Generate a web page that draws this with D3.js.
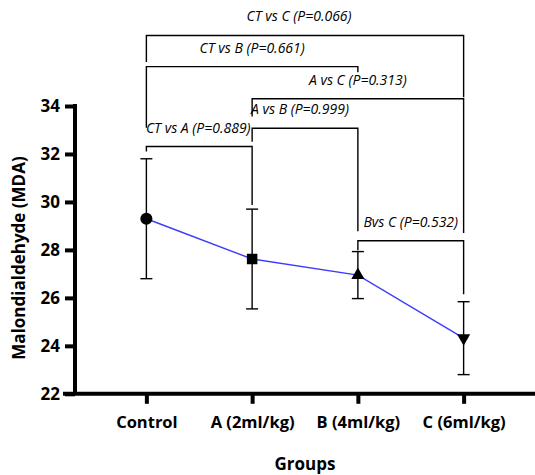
<!DOCTYPE html>
<html><head><meta charset="utf-8">
<script src="https://cdn.jsdelivr.net/npm/d3@7"></script>
<style>
html,body{margin:0;padding:0;background:#fff;}
svg{display:block;}
text{font-family:"Open Sans",sans-serif;}
</style></head>
<body>
<svg id="chart" width="535" height="475"></svg>
<script>
// ---- data ----
const categories = ["Control", "A (2ml/kg)", "B (4ml/kg)", "C (6ml/kg)"];
const means = [29.3, 27.62, 26.95, 24.32];
const sds = [2.5, 2.08, 0.98, 1.52];
const yTicks = [22, 24, 26, 28, 30, 32, 34];
const markerTypes = ["circle", "square", "triangle", "triangleDown"];
const compLabels = ["CT vs C (P=0.066)", "CT vs B (P=0.661)", "A vs C (P=0.313)", "A vs B (P=0.999)", "CT vs A (P=0.889)", "Bvs C (P=0.532)"];
const compFrom = [0, 0, 1, 1, 0, 2];
const compTo = [3, 2, 3, 2, 1, 3];
// bracket levels and leg ends (in MDA units)
const compLevel = [36.94, 35.64, 34.30, 33.07, 32.31, 28.38];
const compLegFrom = [35.83, 33.09, 33.56, 32.51, 32.10, 27.99];
const compLegTo = [34.37, 35.41, 28.70, 28.78, 29.87, 26.15];
const compTextShift = [-6, 0, 0, -5, -1, 0];

const svg = d3.select("#chart");
const x = d3.scalePoint().domain(categories).range([75, 535]).padding(0.675);
const y = d3.scaleLinear().domain([22, 34]).range([393.8, 106]);

// y axis
const yAxis = svg.append("g").attr("transform", "translate(75,0)")
  .call(d3.axisLeft(y).tickValues(yTicks).tickSize(10).tickSizeOuter(0).tickPadding(5));
yAxis.select(".domain").attr("stroke-width", 4).attr("stroke", "#000").attr("d", `M0,${y(34)-2}V${y(22)}`);
yAxis.selectAll(".tick line").attr("stroke-width", 4).attr("stroke", "#000");
yAxis.selectAll(".tick text").attr("font-size", 17).attr("font-weight", "bold").attr("fill", "#000")
  .attr("font-family", "Open Sans");

// x axis
const xAxis = svg.append("g").attr("transform", `translate(0,${y(22)})`)
  .call(d3.axisBottom(x).tickSize(10).tickSizeOuter(0).tickPadding(12));
xAxis.select(".domain").attr("stroke-width", 4).attr("stroke", "#000").attr("d", "M63,0H535");
xAxis.selectAll(".tick line").attr("stroke-width", 4).attr("stroke", "#000");
xAxis.selectAll(".tick text").attr("font-size", 16.5).attr("font-weight", "bold").attr("fill", "#000")
  .attr("font-family", "Open Sans");

// axis titles
svg.append("text").attr("x", (x(categories[1]) + x(categories[2])) / 2).attr("y", 470)
  .attr("text-anchor", "middle").attr("font-size", 17).attr("font-weight", "bold").text("Groups");
svg.append("text").attr("transform", `translate(25,258) rotate(-90)`)
  .attr("text-anchor", "middle").attr("font-size", 17).attr("font-weight", "bold").text("Malondialdehyde (MDA)");

// connecting line
svg.append("path")
  .datum(categories.map((c, i) => [x(c), y(means[i])]))
  .attr("d", d3.line())
  .attr("fill", "none").attr("stroke", "#3b3bff").attr("stroke-width", 1.4);

// error bars
const capW = 6;
categories.forEach((c, i) => {
  const cx = x(c);
  const g = svg.append("g").attr("stroke", "#000").attr("stroke-width", 1.4).attr("fill", "none");
  g.append("line").attr("x1", cx).attr("x2", cx).attr("y1", y(means[i] + sds[i])).attr("y2", y(means[i] - sds[i]));
  g.append("line").attr("x1", cx - capW).attr("x2", cx + capW).attr("y1", y(means[i] + sds[i])).attr("y2", y(means[i] + sds[i]));
  g.append("line").attr("x1", cx - capW).attr("x2", cx + capW).attr("y1", y(means[i] - sds[i])).attr("y2", y(means[i] - sds[i]));
});

// markers
const symMap = {
  circle: [d3.symbolCircle, 115, 0],
  square: [d3.symbolSquare, 110, 0],
  triangle: [d3.symbolTriangle, 75, 0],
  triangleDown: [d3.symbolTriangle, 75, 180]
};
categories.forEach((c, i) => {
  const [t, s, rot] = symMap[markerTypes[i]];
  svg.append("path").attr("d", d3.symbol().type(t).size(s)())
    .attr("transform", `translate(${x(c)},${y(means[i])}) rotate(${rot})`)
    .attr("fill", "#000");
});

// comparison brackets
compLabels.forEach((lab, k) => {
  const x1 = x(categories[compFrom[k]]), x2 = x(categories[compTo[k]]);
  const yl = y(compLevel[k]);
  svg.append("path")
    .attr("d", `M${x1},${y(compLegFrom[k])}V${yl}H${x2}V${y(compLegTo[k])}`)
    .attr("fill", "none").attr("stroke", "#000").attr("stroke-width", 1.4);
  svg.append("text").attr("x", (x1 + x2) / 2 + compTextShift[k]).attr("y", yl - 14)
    .attr("text-anchor", "middle").attr("font-size", 14).attr("font-style", "italic")
    .attr("fill", "#000").text(lab);
});
</script>
</body></html>
